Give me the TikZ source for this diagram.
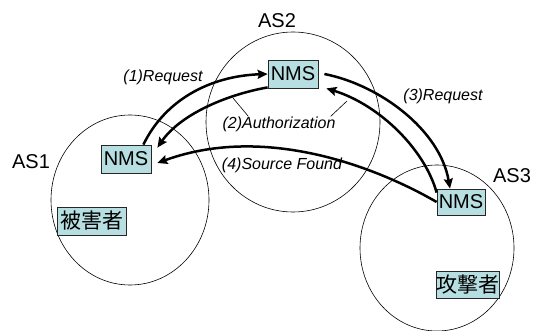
\documentclass[tikz,border=0pt]{standalone}
\usepackage{fontspec}
\setmainfont{Liberation Sans}
\newfontfamily\cjk{Noto Sans CJK JP}
\usetikzlibrary{arrows.meta,calc}
\definecolor{boxfill}{RGB}{183,222,224}
\begin{document}
\begin{tikzpicture}[x=1pt,y=-1pt,
  zone/.style={line width=0.6pt},
  nmsbox/.style={draw=black!85, fill=boxfill, line width=0.8pt, minimum width=50pt, minimum height=28pt, inner sep=0pt, font=\fontsize{20}{20}\selectfont},
  cjkbox/.style={draw=black!85, fill=boxfill, line width=0.8pt, minimum width=69pt, minimum height=28pt, inner sep=0pt, font=\cjk\fontsize{21}{21}\selectfont},
  aslabel/.style={font=\fontsize{20}{20}\selectfont, inner sep=0pt},
  msg/.style={font=\fontsize{16}{16}\selectfont\itshape, inner sep=0pt},
  flow/.style={line width=2.5pt, -{Stealth[length=10pt,width=9pt,inset=1.5pt]}},
  callout/.style={line width=0.6pt}]
\useasboundingbox (0,0) rectangle (534,331);
% AS zones
\draw[zone] (130,200) ellipse [x radius=79, y radius=85];
\draw[zone] (293,122) ellipse [x radius=87, y radius=90];
\draw[zone] (437,248) ellipse [x radius=77, y radius=83];
% labels
\node[aslabel] (as1) at (31,162) {AS1};
\node[aslabel] (as2) at (277,21) {AS2};
\node[aslabel] (as3) at (512,176) {AS3};
% boxes
\node[nmsbox] (n1) at (126,159) {NMS};
\node[nmsbox] (n2) at (293,74) {NMS};
\node[nmsbox, minimum width=48pt, minimum height=26pt] (n3) at (461,202) {NMS};
\node[cjkbox] (victim) at (92,221) {被害者};
\node[cjkbox, minimum width=63pt, minimum height=27pt] (attacker) at (468,285) {攻撃者};
% message labels
\node[msg] (l1) at (163,77) {(1)Request};
\node[msg] (l2) at (279,124) {(2)Authorization};
\node[msg] (l3) at (443,96) {(3)Request};
\node[msg] (l4) at (282,165) {(4)Source Found};
% flows
\coordinate (a1s) at ([xshift=-8pt]n1.north east);
\coordinate (a2e) at ([xshift=6pt,yshift=-3pt]n1.north east);
\coordinate (a4e) at ([xshift=6pt,yshift=-4pt]n1.east);
\coordinate (a2s) at ([yshift=1pt]n2.south west);
\coordinate (a3s) at ([xshift=6pt]n2.east);
\coordinate (a5e) at ([xshift=8pt]n2.south east);
\coordinate (a3e) at ([xshift=-11pt]n3.north);
\coordinate (a5s) at ([yshift=-4pt]n3.north west);
\draw[flow] (a1s) .. controls (165,100) and (210,76) .. (n2.west);
\draw[flow] (a2s) .. controls (225,95) and (180,115) .. (a2e);
\draw[flow] (a3s) .. controls (380,85) and (440,130) .. (a3e);
\draw[flow] (a5s) .. controls (425,150) and (380,105) .. (a5e);
\draw[flow] (n3.west) .. controls (385,172) and (270,122) .. (a4e);
% callouts
\coordinate (c1) at (233,98);
\coordinate (c2) at (347,101);
\draw[callout] ($(l2.north west)+(26,0)$) -- (c1);
\draw[callout] ($(l2.north east)+(-5,0)$) -- (c2);
\end{tikzpicture}
\end{document}
